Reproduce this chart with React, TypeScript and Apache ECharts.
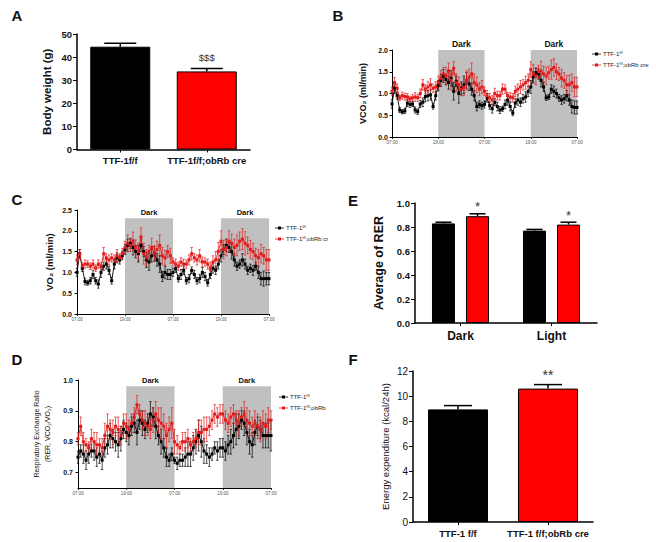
import React, { useEffect, useRef } from 'react';
import * as echarts from 'echarts';

// ---------- Data ----------
const groupsA = ['TTF-1f/f', 'TTF-1f/f;obRb cre'];
const bodyWeight = [44.5, 33.8];
const bodyWeightErr = [1.5, 1.3];
const bodyWeightSig = ['', '$$$'];

const rerPeriods = ['Dark', 'Light'];
const rerControl = [0.83, 0.77];
const rerControlErr = [0.01, 0.01];
const rerCre = [0.89, 0.82];
const rerCreErr = [0.02, 0.02];
const rerControlSig = ['', ''];
const rerCreSig = ['*', '*'];

const groupsF = ['TTF-1 f/f', 'TTF-1 f/f;obRb cre'];
const energy = [8.95, 10.6];
const energyErr = [0.3, 0.32];
const energySig = ['', '**'];

const timeTickHours = [0, 12, 24, 36, 48];
const timeTickLabels = ['07:00', '19:00', '07:00', '19:00', '07:00'];
const darkPeriods = [[12, 24], [36, 48]];
const STEP_HOURS = 40 / 60;

// VCO2 (B)
const vco2Ctrl = [
  0.76, 1.12, 0.95, 0.62, 0.58, 0.6, 0.78, 0.75, 0.76, 0.62, 0.58, 0.76, 0.8, 0.93, 0.95, 0.97, 0.7, 0.95,
  1.18, 1.3, 1.4, 1.32, 1.25, 1.35, 1.05, 1.28, 1.0, 1.12, 1.2, 1.3, 1.22, 1.1, 0.95, 0.7, 0.75, 0.72,
  0.75, 0.9, 0.72, 0.65, 0.8, 0.7, 0.62, 0.65, 0.75, 0.85, 0.7, 0.55, 0.78, 0.85, 0.8, 0.88, 0.92, 1.05,
  1.15, 1.38, 1.48, 1.45, 1.3, 1.15, 0.9, 0.92, 1.1, 1.05, 1.0, 0.9, 0.85, 0.88, 0.95, 0.85, 0.7, 0.68,
  0.68,
];
const vco2CtrlErr = [
  0.1, 0.12, 0.08, 0.06, 0.05, 0.06, 0.08, 0.07, 0.06, 0.07, 0.06, 0.08, 0.1, 0.12, 0.12, 0.12, 0.06, 0.1,
  0.12, 0.14, 0.15, 0.12, 0.15, 0.18, 0.2, 0.12, 0.22, 0.15, 0.2, 0.18, 0.15, 0.14, 0.12, 0.1, 0.08, 0.08,
  0.08, 0.1, 0.08, 0.1, 0.08, 0.1, 0.08, 0.06, 0.1, 0.12, 0.1, 0.06, 0.1, 0.12, 0.1, 0.1, 0.12, 0.12,
  0.15, 0.12, 0.1, 0.12, 0.15, 0.1, 0.06, 0.06, 0.1, 0.12, 0.1, 0.08, 0.1, 0.1, 0.12, 0.12, 0.15, 0.15,
  0.15,
];
const vco2Cre = [
  1.05, 1.25, 1.12, 0.9, 0.95, 0.93, 0.92, 0.88, 0.9, 0.92, 0.9, 1.0, 1.2, 1.1, 1.15, 1.2, 1.12, 1.15,
  1.25, 1.35, 1.45, 1.4, 1.52, 1.3, 1.58, 1.25, 1.2, 1.1, 1.15, 1.3, 1.38, 1.45, 1.25, 1.2, 1.1, 1.15,
  1.05, 0.95, 0.9, 0.85, 1.0, 0.95, 0.95, 1.1, 1.1, 0.95, 0.92, 0.9, 1.05, 1.1, 1.15, 1.2, 1.25, 1.3,
  1.55, 1.45, 1.4, 1.5, 1.52, 1.45, 1.4, 1.48, 1.55, 1.6, 1.5, 1.45, 1.35, 1.3, 1.2, 1.2, 1.25, 1.15,
  1.15,
];
const vco2CreErr = [
  0.1, 0.12, 0.1, 0.06, 0.08, 0.08, 0.08, 0.06, 0.08, 0.1, 0.08, 0.1, 0.12, 0.1, 0.12, 0.14, 0.1, 0.12,
  0.15, 0.18, 0.15, 0.2, 0.18, 0.22, 0.15, 0.2, 0.18, 0.15, 0.2, 0.22, 0.18, 0.25, 0.2, 0.18, 0.15, 0.15,
  0.1, 0.12, 0.1, 0.1, 0.12, 0.1, 0.1, 0.12, 0.1, 0.08, 0.1, 0.1, 0.12, 0.12, 0.15, 0.12, 0.15, 0.15,
  0.18, 0.22, 0.2, 0.15, 0.22, 0.18, 0.2, 0.15, 0.22, 0.2, 0.18, 0.15, 0.2, 0.18, 0.22, 0.22, 0.2, 0.22,
  0.22,
];

// VO2 (C)
const vo2Ctrl = [
  1.0, 1.45, 1.1, 0.78, 0.75, 0.8, 0.95, 0.8, 0.72, 1.0, 1.15, 1.2, 1.05, 0.8, 1.2, 1.35, 1.3, 1.4,
  1.55, 1.65, 1.7, 1.6, 1.5, 1.45, 1.65, 1.5, 1.3, 1.25, 1.4, 1.45, 1.3, 1.2, 0.9, 1.0, 0.95, 0.95,
  1.0, 1.1, 0.85, 0.95, 1.05, 0.8, 0.85, 1.05, 0.95, 0.8, 0.85, 1.0, 0.9, 0.75, 0.95, 1.1, 1.05, 1.2,
  1.4, 1.55, 1.65, 1.6, 1.5, 1.3, 1.15, 1.2, 1.3, 1.2, 1.05, 1.1, 1.05, 1.15, 1.0, 0.85, 0.85, 0.85,
  0.85,
];
const vo2CtrlErr = [
  0.1, 0.1, 0.08, 0.08, 0.06, 0.08, 0.1, 0.08, 0.1, 0.12, 0.1, 0.12, 0.1, 0.08, 0.12, 0.12, 0.1, 0.1,
  0.12, 0.15, 0.12, 0.18, 0.15, 0.2, 0.15, 0.12, 0.18, 0.2, 0.15, 0.18, 0.15, 0.2, 0.12, 0.15, 0.12, 0.12,
  0.1, 0.1, 0.08, 0.12, 0.1, 0.08, 0.1, 0.08, 0.1, 0.08, 0.1, 0.12, 0.1, 0.08, 0.1, 0.12, 0.1, 0.12,
  0.15, 0.12, 0.15, 0.12, 0.18, 0.15, 0.1, 0.1, 0.15, 0.12, 0.1, 0.1, 0.12, 0.1, 0.15, 0.15, 0.18, 0.15,
  0.15,
];
const vo2Cre = [
  1.3, 1.45, 1.15, 1.2, 1.2, 1.15, 1.2, 1.1, 1.2, 1.15, 1.45, 1.35, 1.3, 1.35, 1.3, 1.4, 1.35, 1.45,
  1.6, 1.7, 1.65, 1.75, 1.6, 1.5, 1.85, 1.45, 1.35, 1.5, 1.6, 1.45, 1.55, 1.65, 1.4, 1.35, 1.5, 1.4,
  1.25, 1.2, 1.15, 1.25, 1.2, 1.2, 1.3, 1.45, 1.35, 1.3, 1.4, 1.25, 1.25, 1.2, 1.1, 1.25, 1.3, 1.5,
  1.75, 1.55, 1.6, 1.75, 1.7, 1.6, 1.65, 1.75, 1.8, 1.7, 1.65, 1.55, 1.5, 1.4, 1.35, 1.45, 1.4, 1.3,
  1.3,
];
const vo2CreErr = [
  0.12, 0.1, 0.08, 0.1, 0.08, 0.08, 0.1, 0.08, 0.1, 0.08, 0.15, 0.1, 0.12, 0.1, 0.12, 0.15, 0.1, 0.12,
  0.15, 0.2, 0.15, 0.22, 0.18, 0.2, 0.22, 0.25, 0.2, 0.15, 0.22, 0.18, 0.2, 0.25, 0.2, 0.18, 0.15, 0.18,
  0.1, 0.12, 0.1, 0.1, 0.12, 0.1, 0.12, 0.15, 0.1, 0.12, 0.15, 0.12, 0.1, 0.12, 0.15, 0.15, 0.2, 0.22,
  0.25, 0.22, 0.2, 0.25, 0.22, 0.2, 0.25, 0.22, 0.25, 0.28, 0.2, 0.22, 0.2, 0.18, 0.2, 0.22, 0.2, 0.25,
  0.25,
];

// RER (D)
const rerCtrlTs = [
  0.75, 0.77, 0.76, 0.74, 0.76, 0.77, 0.77, 0.75, 0.76, 0.74, 0.78, 0.79, 0.82, 0.81, 0.8, 0.79, 0.81, 0.84,
  0.83, 0.82, 0.85, 0.86, 0.83, 0.87, 0.86, 0.84, 0.86, 0.89, 0.88, 0.85, 0.82, 0.8, 0.78, 0.75, 0.74, 0.76,
  0.74, 0.73, 0.74, 0.74, 0.75, 0.76, 0.76, 0.78, 0.8, 0.82, 0.8, 0.77, 0.76, 0.75, 0.76, 0.78, 0.77, 0.78,
  0.78, 0.77, 0.79, 0.8, 0.82, 0.84, 0.85, 0.87, 0.86, 0.83, 0.8, 0.79, 0.83, 0.85, 0.84, 0.82, 0.82, 0.82,
  0.82,
];
const rerCtrlTsErr = [
  0.02, 0.02, 0.03, 0.03, 0.03, 0.02, 0.03, 0.03, 0.03, 0.03, 0.03, 0.03, 0.04, 0.03, 0.03, 0.04, 0.04, 0.03,
  0.03, 0.03, 0.03, 0.03, 0.04, 0.03, 0.04, 0.03, 0.03, 0.04, 0.03, 0.04, 0.03, 0.04, 0.03, 0.03, 0.02, 0.02,
  0.01, 0.02, 0.02, 0.02, 0.03, 0.04, 0.04, 0.04, 0.04, 0.05, 0.05, 0.04, 0.03, 0.03, 0.02, 0.02, 0.03, 0.03,
  0.03, 0.03, 0.03, 0.04, 0.04, 0.05, 0.04, 0.03, 0.04, 0.04, 0.04, 0.04, 0.04, 0.03, 0.03, 0.04, 0.04, 0.04,
  0.05,
];
const rerCreTs = [
  0.81, 0.85, 0.8, 0.79, 0.78, 0.81, 0.8, 0.79, 0.79, 0.78, 0.82, 0.85, 0.84, 0.83, 0.85, 0.84, 0.82, 0.86,
  0.85, 0.84, 0.86, 0.88, 0.92, 0.89, 0.87, 0.86, 0.85, 0.84, 0.87, 0.89, 0.87, 0.86, 0.85, 0.82, 0.84, 0.86,
  0.8, 0.79, 0.78, 0.8, 0.8, 0.81, 0.79, 0.8, 0.81, 0.83, 0.83, 0.84, 0.84, 0.85, 0.87, 0.89, 0.88, 0.89,
  0.89, 0.87, 0.86, 0.88, 0.89, 0.87, 0.86, 0.88, 0.89, 0.87, 0.86, 0.85, 0.86, 0.85, 0.84, 0.86, 0.85, 0.87,
  0.87,
];
const rerCreTsErr = [
  0.02, 0.03, 0.03, 0.02, 0.02, 0.03, 0.03, 0.04, 0.02, 0.03, 0.04, 0.04, 0.03, 0.04, 0.03, 0.04, 0.03, 0.03,
  0.04, 0.03, 0.03, 0.03, 0.03, 0.03, 0.03, 0.04, 0.03, 0.03, 0.04, 0.04, 0.04, 0.05, 0.04, 0.04, 0.04, 0.05,
  0.04, 0.03, 0.02, 0.03, 0.03, 0.03, 0.02, 0.03, 0.03, 0.04, 0.04, 0.04, 0.04, 0.03, 0.03, 0.03, 0.03, 0.03,
  0.03, 0.03, 0.03, 0.03, 0.03, 0.03, 0.04, 0.03, 0.04, 0.04, 0.04, 0.03, 0.04, 0.04, 0.04, 0.04, 0.04, 0.04,
  0.03,
];

// ---------- Styling helpers ----------
const FONT = 'Liberation Sans, Arial, Helvetica, sans-serif';
const BLACK = '#000000';
const RED = '#ff0000';
const LINE_RED = '#e41a1a';
const GREY = '#c0c0c0';

function tsXAxis(gridIndex: number) {
  return {
    type: 'value', gridIndex, min: 0, max: 48, interval: 12,
    axisLine: { show: true, lineStyle: { color: '#000', width: 1 } },
    axisTick: { show: true, length: 2, lineStyle: { color: '#000', width: 0.8 } },
    axisLabel: {
      fontSize: 4.5, color: '#555', margin: 3, fontFamily: FONT,
      formatter: (v: number) => { const k = timeTickHours.indexOf(v); return k >= 0 ? timeTickLabels[k] : ''; },
    },
    splitLine: { show: false },
  };
}

function tsSeries(xi: number, means: number[], errs: number[], color: string, name: string) {
  const data = means.map((m, i) => [i * STEP_HOURS, m, errs[i]]);
  return [
    {
      type: 'custom', name: name + ' err', xAxisIndex: xi, yAxisIndex: xi, z: 4, silent: true,
      data,
      encode: { x: 0, y: 1 },
      renderItem: (params: any, api: any) => {
        const x = api.value(0), y = api.value(1), e = api.value(2);
        const t = api.coord([x, y + e]);
        const b = api.coord([x, y - e]);
        const c = 1.2;
        const st = { stroke: color, lineWidth: 0.7 };
        return {
          type: 'group', children: [
            { type: 'line', shape: { x1: t[0], y1: t[1], x2: b[0], y2: b[1] }, style: st },
            { type: 'line', shape: { x1: t[0] - c, y1: t[1], x2: t[0] + c, y2: t[1] }, style: st },
            { type: 'line', shape: { x1: b[0] - c, y1: b[1], x2: b[0] + c, y2: b[1] }, style: st },
          ],
        };
      },
    },
    {
      type: 'line', name, xAxisIndex: xi, yAxisIndex: xi, z: 5, silent: true,
      data: data.map((d) => [d[0], d[1]]),
      symbol: 'rect', symbolSize: 3, showSymbol: true,
      lineStyle: { color, width: 0.9 },
      itemStyle: { color },
    },
  ];
}

function darkArea(xi: number, bottom: number, top: number, fontSize: number) {
  return {
    type: 'line', xAxisIndex: xi, yAxisIndex: xi, z: 1, silent: true, data: [],
    markArea: {
      silent: true,
      itemStyle: { color: GREY, opacity: 1 },
      label: { show: true, position: 'top', distance: 1.5, fontSize, fontWeight: 'bold', color: '#111', fontFamily: FONT },
      data: darkPeriods.map(([a, b]) => [{ name: 'Dark', xAxis: a, yAxis: bottom }, { xAxis: b, yAxis: top }]),
    },
  };
}

function barErr(xi: number, means: number[], errs: number[], sig: string[], offset: number, capHalf: number, sigGap: number, sigSize: number) {
  return {
    type: 'custom', xAxisIndex: xi, yAxisIndex: xi, z: 6, silent: true,
    data: means.map((m, i) => [i, m, errs[i]]),
    encode: { x: 0, y: 1 },
    renderItem: (params: any, api: any) => {
      const i = api.value(0), m = api.value(1), e = api.value(2);
      const base = api.coord([i, m]);
      const top = api.coord([i, m + e]);
      const x = base[0] + offset;
      const st = { stroke: '#000', lineWidth: 1.5 };
      const children: any[] = [
        { type: 'line', shape: { x1: x, y1: base[1], x2: x, y2: top[1] }, style: st },
        { type: 'line', shape: { x1: x - capHalf, y1: top[1], x2: x + capHalf, y2: top[1] }, style: st },
      ];
      const s = sig[params.dataIndex];
      if (s) {
        children.push({
          type: 'text', x, y: top[1] - sigGap,
          style: { text: s, fontSize: sigSize, fill: '#333', align: 'center', verticalAlign: 'middle', fontFamily: FONT },
        });
      }
      return { type: 'group', children };
    },
  };
}

function legendBlock(x: number, y: number, clipRight: number | null) {
  const rows = [
    { color: BLACK, text: 'TTF-1{s|f/f}' },
    { color: LINE_RED, text: 'TTF-1{s|f/f};obRb cre' },
  ];
  const out: any[] = [];
  rows.forEach((r, k) => {
    const yy = y + k * 11;
    out.push({ type: 'line', shape: { x1: x, y1: yy, x2: x + 9, y2: yy }, style: { stroke: r.color, lineWidth: 0.8 } });
    out.push({ type: 'rect', shape: { x: x + 3, y: yy - 1.5, width: 3, height: 3 }, style: { fill: r.color } });
    const st: any = {
      text: r.text, fontSize: 6, fill: '#222', verticalAlign: 'middle', fontFamily: FONT,
      rich: { s: { fontSize: 4, padding: [0, 0, 3, 0], fill: '#222', fontFamily: FONT } },
    };
    if (clipRight !== null) {
      st.width = clipRight - (x + 11);
      st.overflow = 'truncate';
      st.ellipsis = '';
    }
    out.push({ type: 'text', x: x + 11, y: yy, style: st });
  });
  return out;
}

function letter(t: string, x: number, y: number) {
  return { type: 'text', x, y, style: { text: t, fontSize: 15, fontWeight: 'bold', fill: '#111', fontFamily: FONT, verticalAlign: 'middle', align: 'center' } };
}

function buildOption() {
  const E_BAR = 23;
  const E_GAP = 11;
  const eOff = (E_BAR + E_GAP) / 2;

  const grids = [
    { left: 77, top: 34, width: 173, height: 115.5 }, // A
    { left: 392, top: 50, width: 185, height: 87 }, // B
    { left: 77, top: 210, width: 192, height: 104 }, // C
    { left: 78, top: 380, width: 193, height: 108 }, // D
    { left: 415, top: 203, width: 182, height: 120 }, // E
    { left: 413, top: 371, width: 180, height: 151 }, // F
  ];

  const barCatAxis = (gridIndex: number, data: string[], fontSize: number, margin: number) => ({
    type: 'category', gridIndex, data,
    axisLine: { show: true, lineStyle: { color: '#000', width: 1.5 } },
    axisTick: { show: true, alignWithLabel: true, length: 3, lineStyle: { color: '#000', width: 1 } },
    axisLabel: { fontSize, fontWeight: 'bold', color: '#111', margin, fontFamily: FONT, interval: 0 },
    splitLine: { show: false },
  });

  const valAxis = (gridIndex: number, min: number, max: number, interval: number, name: string, opts: any) => ({
    type: 'value', gridIndex, min, max, interval,
    name, nameLocation: 'middle', nameGap: opts.nameGap,
    nameTextStyle: { fontSize: opts.nameSize, fontWeight: opts.nameBold ? 'bold' : 'normal', color: '#111', fontFamily: FONT, lineHeight: opts.lineHeight },
    axisLine: { show: true, lineStyle: { color: '#000', width: opts.lineWidth ?? 1.5 } },
    axisTick: { show: true, length: opts.tick ?? 4, lineStyle: { color: '#000', width: 1 } },
    axisLabel: {
      fontSize: opts.labelSize, fontWeight: opts.labelBold ? 'bold' : 'normal', color: '#111', margin: opts.margin ?? 5, fontFamily: FONT,
      formatter: opts.fmt ? (v: number) => v.toFixed(opts.fmt) : undefined,
    },
    splitLine: { show: false },
  });

  const xAxis = [
    barCatAxis(0, groupsA, 9.5, 6),
    tsXAxis(1),
    tsXAxis(2),
    tsXAxis(3),
    barCatAxis(4, rerPeriods, 12, 7),
    barCatAxis(5, groupsF, 9.5, 6),
  ];

  const yAxis = [
    valAxis(0, 0, 50, 10, 'Body weight (g)', { nameGap: 24, nameSize: 11.5, nameBold: true, labelSize: 9.5, labelBold: true }),
    valAxis(1, 0, 2, 0.5, 'VCO\u2082 (ml/min)', { nameGap: 25, nameSize: 9, nameBold: true, labelSize: 7, labelBold: true, fmt: 1, tick: 2.5, lineWidth: 1, margin: 4 }),
    valAxis(2, 0, 2.5, 0.5, 'VO\u2082 (ml/min)', { nameGap: 23, nameSize: 9.5, nameBold: true, labelSize: 7, labelBold: true, fmt: 1, tick: 2.5, lineWidth: 1, margin: 5 }),
    {
      type: 'value', gridIndex: 3, min: 0.65, max: 1.0,
      name: 'Respiratory Exchange Ratio\n(RER, VCO\u2082/VO\u2082)', nameLocation: 'middle', nameGap: 25,
      nameTextStyle: { fontSize: 7, color: '#111', fontFamily: FONT, lineHeight: 11 },
      axisLine: { show: true, lineStyle: { color: '#000', width: 1 } },
      axisTick: { show: true, length: 2.5, customValues: [0.7, 0.8, 0.9, 1.0], lineStyle: { color: '#000', width: 1 } },
      axisLabel: { fontSize: 7, fontWeight: 'bold', color: '#111', margin: 5, fontFamily: FONT, customValues: [0.7, 0.8, 0.9, 1.0], formatter: (v: number) => v.toFixed(1) },
      splitLine: { show: false },
    },
    valAxis(4, 0, 1, 0.2, 'Average of RER', { nameGap: 30, nameSize: 12.5, nameBold: true, labelSize: 9.5, labelBold: true, fmt: 1 }),
    valAxis(5, 0, 12, 2, 'Energy expenditure (kcal/24h)', { nameGap: 23, nameSize: 9.5, nameBold: false, labelSize: 10, labelBold: false }),
  ];

  const series: any[] = [
    // A
    {
      type: 'bar', xAxisIndex: 0, yAxisIndex: 0, barWidth: 60, z: 3, silent: true,
      data: bodyWeight.map((v, i) => ({ value: v, itemStyle: { color: i === 0 ? BLACK : RED, borderColor: '#000', borderWidth: 1 } })),
    },
    barErr(0, bodyWeight, bodyWeightErr, bodyWeightSig, 0, 16, 11, 9.5),
    // B
    darkArea(1, 0, 2.0, 8.5),
    ...tsSeries(1, vco2Ctrl, vco2CtrlErr, BLACK, 'TTF-1f/f B'),
    ...tsSeries(1, vco2Cre, vco2CreErr, LINE_RED, 'TTF-1f/f;obRb cre B'),
    // C
    darkArea(2, 0, 2.3, 7.5),
    ...tsSeries(2, vo2Ctrl, vo2CtrlErr, BLACK, 'TTF-1f/f C'),
    ...tsSeries(2, vo2Cre, vo2CreErr, LINE_RED, 'TTF-1f/f;obRb cre C'),
    // D
    darkArea(3, 0.65, 0.98, 7.5),
    ...tsSeries(3, rerCtrlTs, rerCtrlTsErr, BLACK, 'TTF-1f/f D'),
    ...tsSeries(3, rerCreTs, rerCreTsErr, LINE_RED, 'TTF-1f/f;obRb cre D'),
    // E
    {
      type: 'bar', name: 'TTF-1f/f', xAxisIndex: 4, yAxisIndex: 4, barWidth: E_BAR, barGap: (E_GAP / E_BAR * 100).toFixed(0) + '%', z: 3, silent: true,
      data: rerControl, itemStyle: { color: BLACK, borderColor: '#000', borderWidth: 1 },
    },
    {
      type: 'bar', name: 'TTF-1f/f;obRb cre', xAxisIndex: 4, yAxisIndex: 4, barWidth: E_BAR, z: 3, silent: true,
      data: rerCre, itemStyle: { color: RED, borderColor: '#000', borderWidth: 1 },
    },
    barErr(4, rerControl, rerControlErr, rerControlSig, -eOff, 8, 8, 13),
    barErr(4, rerCre, rerCreErr, rerCreSig, eOff, 8, 7, 13),
    // F
    {
      type: 'bar', xAxisIndex: 5, yAxisIndex: 5, barWidth: 60, z: 3, silent: true,
      data: energy.map((v, i) => ({ value: v, itemStyle: { color: i === 0 ? BLACK : RED, borderColor: '#000', borderWidth: 1 } })),
    },
    barErr(5, energy, energyErr, energySig, 0, 14, 10, 14),
  ];

  const graphic: any[] = [
    letter('A', 17, 15),
    letter('B', 338, 15),
    letter('C', 17, 199),
    letter('D', 17, 359),
    letter('E', 353, 200),
    letter('F', 353, 359),
    ...legendBlock(592, 54, null),
    ...legendBlock(275, 228, 331),
    ...legendBlock(279, 397, 331),
  ];

  return {
    animation: false,
    backgroundColor: '#ffffff',
    textStyle: { fontFamily: FONT },
    grid: grids.map((g) => ({ ...g, containLabel: false })),
    xAxis,
    yAxis,
    series,
    graphic,
  };
}

export default function App() {
  const ref = useRef<HTMLDivElement | null>(null);
  useEffect(() => {
    if (!ref.current) return;
    const chart = echarts.init(ref.current, undefined, { renderer: 'svg' });
    chart.setOption(buildOption() as any);
    return () => chart.dispose();
  }, []);
  return (
    <div
      ref={ref}
      style={{ position: 'absolute', left: 0, top: 0, width: 656, height: 542, background: '#fff' }}
    />
  );
}
